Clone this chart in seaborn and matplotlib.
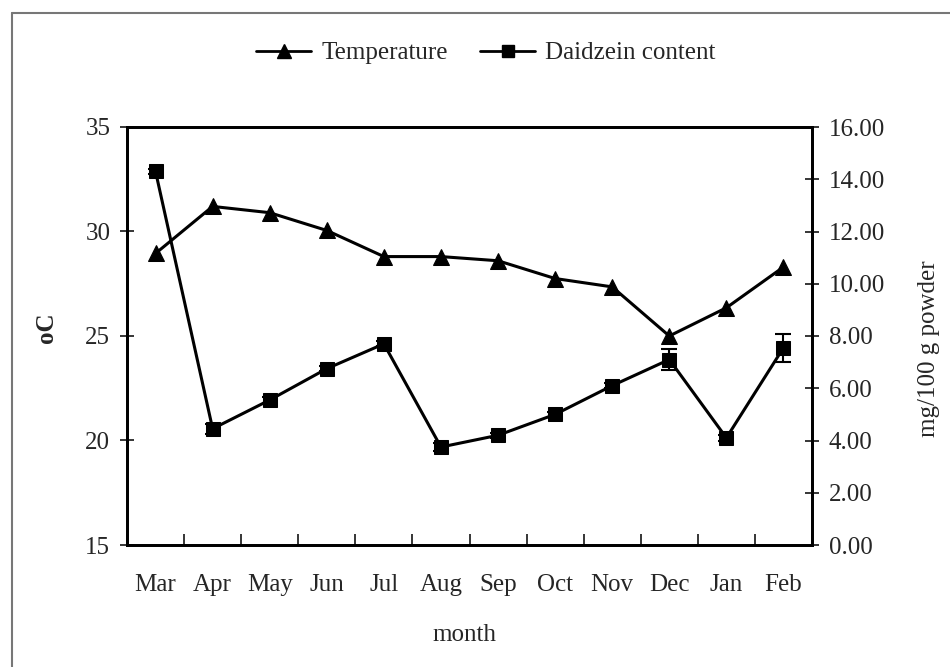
import numpy as np
import pandas as pd
import matplotlib
matplotlib.use('Agg')
import matplotlib.pyplot as plt
import seaborn as sns
from matplotlib.lines import Line2D

# data
months = ['Mar', 'Apr', 'May', 'Jun', 'Jul', 'Aug', 'Sep', 'Oct', 'Nov', 'Dec', 'Jan', 'Feb']
temperature = [28.95, 31.2, 30.9, 30.05, 28.8, 28.8, 28.6, 27.75, 27.35, 25.0, 26.35, 28.3]
daidzein = [14.3, 4.45, 5.55, 6.75, 7.7, 3.75, 4.2, 5.0, 6.1, 7.1, 4.1, 7.55]
daidzein_err = [0.1, 0.2, 0.1, 0.1, 0.1, 0.15, 0.1, 0.1, 0.1, 0.42, 0.1, 0.53]

df = pd.DataFrame({'month': months, 'temperature': temperature,
                   'daidzein': daidzein, 'err': daidzein_err})

sns.set_style('ticks')
plt.rcParams['font.family'] = ['Liberation Serif', 'DejaVu Serif']
fs = 18

fig = plt.figure(figsize=(9.5, 6.67), dpi=100)
ax = fig.add_axes([127/950, 1 - 545/667, 685/950, 418/667])

sns.lineplot(data=df, x='month', y='temperature', sort=False, ax=ax,
             color='black', linewidth=2.2, marker='^', markersize=12,
             markeredgecolor='black', legend=False)

ax2 = ax.twinx()
sns.lineplot(data=df, x='month', y='daidzein', sort=False, ax=ax2,
             color='black', linewidth=2.2, marker='s', markersize=10,
             markeredgecolor='black', legend=False)
ax2.errorbar(df['month'], df['daidzein'], yerr=df['err'], fmt='none',
             ecolor='black', elinewidth=1.5, capsize=6, capthick=1.5)

# axes ranges and ticks
ax.set_xlim(-0.5, 11.5)
ax.set_ylim(15, 35)
ax.set_yticks(np.arange(15, 36, 5))
ax2.set_ylim(0, 16)
ax2.set_yticks(np.arange(0, 17, 2))
ax2.set_yticklabels(['%.2f' % v for v in np.arange(0, 17, 2)])

ax.set_xticks(np.arange(-0.5, 12, 1.0))
ax.set_xticklabels([])
ax.set_xticks(np.arange(12), minor=True)
ax.set_xticklabels(months, minor=True)
ax.tick_params(axis='x', which='major', direction='in', length=8, width=1.3)
ax.tick_params(axis='x', which='minor', length=0, pad=21, labelsize=fs)
ax.tick_params(axis='y', direction='inout', length=10, width=1.3, pad=7, labelsize=fs)
ax2.tick_params(axis='y', direction='inout', length=10, width=1.3, pad=7, labelsize=fs)

for a in (ax, ax2):
    for s in a.spines.values():
        s.set_linewidth(2)
        s.set_color('black')

ax.set_xlabel('month', fontsize=fs)
ax.xaxis.set_label_coords(0.493, -0.19)
ax.set_ylabel('oC', fontsize=fs, fontweight='bold')
ax.yaxis.set_label_coords(-0.1, 0.52)
ax2.set_ylabel('mg/100 g powder', fontsize=fs)
ax2.yaxis.set_label_coords(1.155, 0.47)

# legend on top
handles = [Line2D([], [], color='black', lw=2, marker='^', markersize=10),
           Line2D([], [], color='black', lw=2, marker='s', markersize=8)]
fig.legend(handles, ['Temperature', 'Daidzein content'], loc='center',
           bbox_to_anchor=(486/950, 1 - 53/667), ncol=2, frameon=False,
           fontsize=fs, handlelength=2.2, handletextpad=0.4, columnspacing=1.3)

# frame around the picture (left and top edges visible)
fig.add_artist(Line2D([12/950, 12/950], [0, 1 - 13/667], color='#777777', lw=1.5,
                      transform=fig.transFigure))
fig.add_artist(Line2D([12/950, 1], [1 - 13/667, 1 - 13/667], color='#777777', lw=1.5,
                      transform=fig.transFigure))

fig.savefig('out.png', dpi=100)
